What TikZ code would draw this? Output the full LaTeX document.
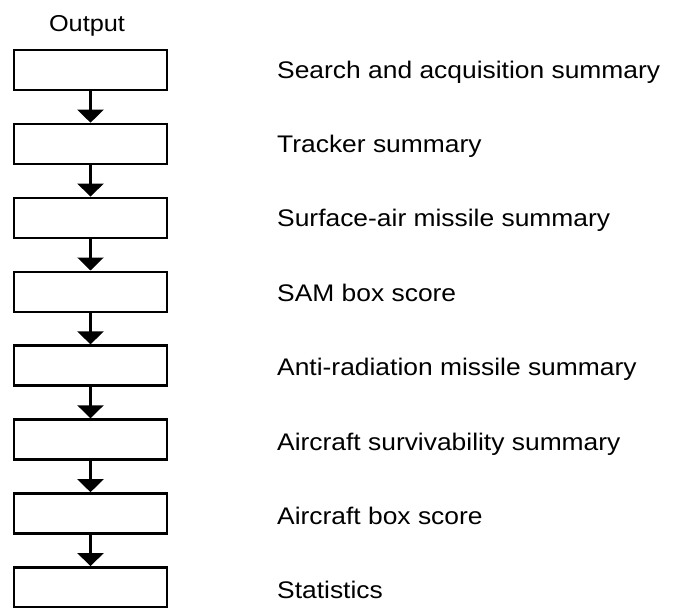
\documentclass[tikz,border=0pt]{standalone}
\usepackage{fontspec}
\setmainfont{Liberation Sans}[FakeStretch=1.1]
\usetikzlibrary{arrows.meta}
\begin{document}
\begin{tikzpicture}[x=1pt,y=-1pt,
  stagebox/.style={draw,line width=2.4pt,minimum width=153pt,minimum height=40pt,inner sep=0pt},
  flow/.style={line width=2.4pt,-{Triangle[width=26pt,length=13pt]}},
  caption/.style={anchor=base west,inner sep=0pt,font=\fontsize{24}{28}\selectfont}]
\useasboundingbox (0,0) rectangle (673,608);
\node[anchor=base,inner sep=0pt,font=\fontsize{23}{27}\selectfont] (title) at (87,31) {Output};
\foreach \i/\t in {1/Search and acquisition summary,2/Tracker summary,3/Surface-air missile summary,4/SAM box score,5/Anti-radiation missile summary,6/Aircraft survivability summary,7/Aircraft box score,8/Statistics}{
  \node[stagebox] (b\i) at (90.5,{70+(\i-1)*73.9}) {};
  \node[caption] (l\i) at (277,{78+(\i-1)*74.4}) {\t};
}
\foreach \i [count=\j from 2] in {1,...,7}{
  \draw[flow] (b\i.south) -- (b\j.north);
}
\end{tikzpicture}
\end{document}
